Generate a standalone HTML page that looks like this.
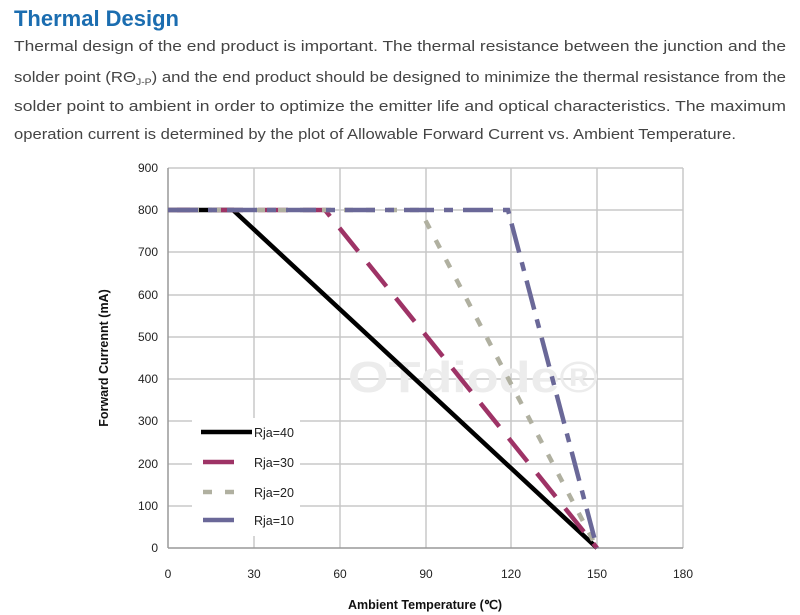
<!DOCTYPE html>
<html><head><meta charset="utf-8"><style>
body{margin:0;width:800px;height:615px;background:#fff;font-family:"Liberation Sans",sans-serif;position:relative;overflow:hidden}
svg{position:absolute;left:0;top:0}
</style></head><body>
<svg width="800" height="615" font-family="Liberation Sans,sans-serif">
<text x="14" y="26" font-size="22" font-weight="bold" fill="#1b6db0" textLength="165" lengthAdjust="spacingAndGlyphs">Thermal Design</text>
<g font-size="14.5" fill="#444">
<text x="14" y="51" textLength="772" lengthAdjust="spacingAndGlyphs">Thermal design of the end product is important. The thermal resistance between the junction and the</text>
<text x="14" y="82" textLength="772" lengthAdjust="spacingAndGlyphs">solder point (RΘ<tspan font-size="9" dy="3">J-P</tspan><tspan dy="-3">) and the end product should be designed to minimize the thermal resistance from the</tspan></text>
<text x="14" y="111" textLength="772" lengthAdjust="spacingAndGlyphs">solder point to ambient in order to optimize the emitter life and optical characteristics. The maximum</text>
<text x="14" y="139" textLength="722" lengthAdjust="spacingAndGlyphs">operation current is determined by the plot of Allowable Forward Current vs. Ambient Temperature.</text>
</g>
<g stroke="#c8c8c8" stroke-width="1.5">
<line x1="254" y1="168" x2="254" y2="548"/><line x1="340" y1="168" x2="340" y2="548"/><line x1="426" y1="168" x2="426" y2="548"/><line x1="511" y1="168" x2="511" y2="548"/><line x1="597" y1="168" x2="597" y2="548"/><line x1="683" y1="168" x2="683" y2="548"/>
<line x1="168" y1="168" x2="683" y2="168"/><line x1="168" y1="210" x2="683" y2="210"/><line x1="168" y1="252" x2="683" y2="252"/><line x1="168" y1="295" x2="683" y2="295"/><line x1="168" y1="337" x2="683" y2="337"/><line x1="168" y1="379" x2="683" y2="379"/><line x1="168" y1="421" x2="683" y2="421"/><line x1="168" y1="464" x2="683" y2="464"/><line x1="168" y1="506" x2="683" y2="506"/>
</g>
<g stroke="#999" stroke-width="1.5"><line x1="168" y1="168" x2="168" y2="548"/><line x1="168" y1="548" x2="683" y2="548"/></g>
<text x="348" y="392" font-size="44" fill="#ececec" font-weight="bold" textLength="250" lengthAdjust="spacingAndGlyphs">OTdiode®</text>
<g font-size="12" fill="#222" text-anchor="end">
<text x="158" y="172">900</text><text x="158" y="214">800</text><text x="158" y="256">700</text><text x="158" y="299">600</text><text x="158" y="341">500</text><text x="158" y="383">400</text><text x="158" y="425">300</text><text x="158" y="468">200</text><text x="158" y="510">100</text><text x="158" y="552">0</text>
</g>
<g font-size="12" fill="#222" text-anchor="middle">
<text x="168" y="578">0</text><text x="254" y="578">30</text><text x="340" y="578">60</text><text x="426" y="578">90</text><text x="511" y="578">120</text><text x="597" y="578">150</text><text x="683" y="578">180</text>
</g>
<text x="425" y="609" font-size="12.5" font-weight="bold" text-anchor="middle" fill="#111">Ambient Temperature (℃)</text>
<text transform="translate(108,358) rotate(-90)" font-size="12.5" font-weight="bold" text-anchor="middle" fill="#111">Forward Currennt (mA)</text>
<g fill="none" stroke-width="4.5">
<polyline points="168,210 233,210 597,548" stroke="#000"/>
<polyline points="168,210 325,210 597,548" stroke="#9e3366" stroke-dasharray="30,15"/>
<polyline points="168,210 420,210 597,548" stroke="#b0b0a0" stroke-dasharray="9,13"/>
<polyline points="168,210 508,210 597,548" stroke="#6a6898" stroke-dasharray="30,10,9,10"/>
</g>
<rect x="192" y="418" width="108" height="118" fill="#fff"/>
<g stroke-width="4.5">
<line x1="201" y1="432" x2="252" y2="432" stroke="#000"/>
<line x1="203" y1="462" x2="234" y2="462" stroke="#9e3366"/>
<line x1="203" y1="492" x2="212" y2="492" stroke="#b0b0a0"/><line x1="225" y1="492" x2="234" y2="492" stroke="#b0b0a0"/>
<line x1="203" y1="520" x2="234" y2="520" stroke="#6a6898"/>
</g>
<g font-size="12.5" fill="#222">
<text x="254" y="437">Rja=40</text><text x="254" y="467">Rja=30</text><text x="254" y="497">Rja=20</text><text x="254" y="525">Rja=10</text>
</g>
</svg>
</body></html>
